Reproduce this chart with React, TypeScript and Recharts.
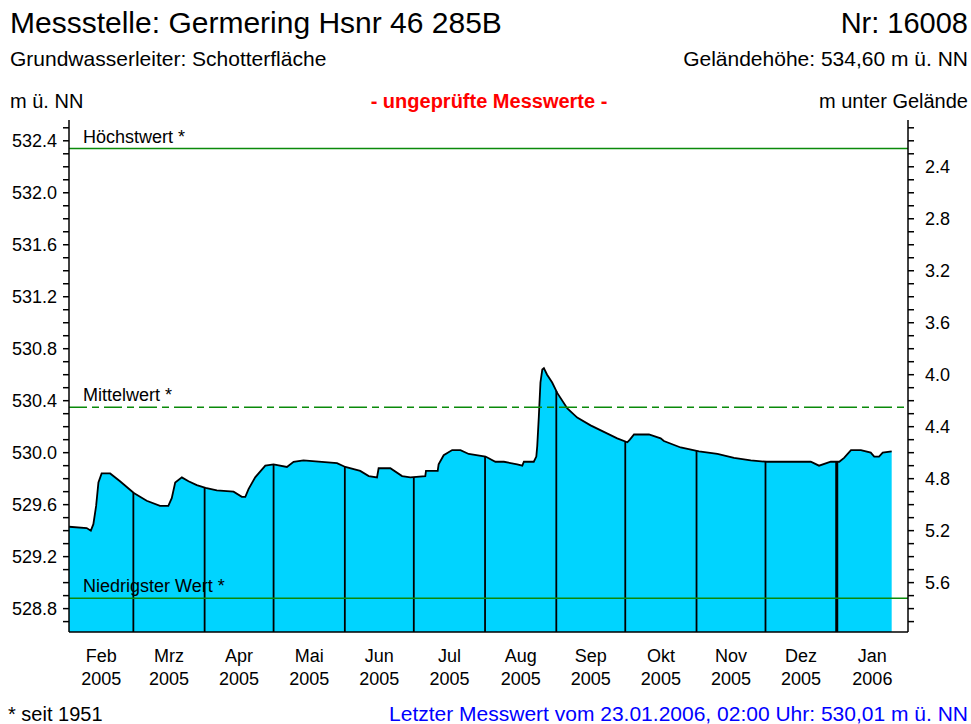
import React from 'react';
import { ComposedChart, Area, Line, XAxis, YAxis, ReferenceLine } from 'recharts';

// ---- texts ----
const titleText = 'Messstelle: Germering Hsnr 46 285B';
const numberText = 'Nr: 16008';
const aquiferText = 'Grundwasserleiter: Schotterfläche';
const groundText = 'Geländehöhe: 534,60 m ü. NN';
const leftUnit = 'm ü. NN';
const rightUnit = 'm unter Gelände';
const warningText = '- ungeprüfte Messwerte -';
const footnoteText = '* seit 1951';
const lastValueText = 'Letzter Messwert vom 23.01.2006, 02:00 Uhr: 530,01 m ü. NN';

// ---- data ----
const groundLevel = 534.6;
// days since 01.02.2005
const dayIndex = [
  0, 7.7, 9.5, 10.6, 11.8, 12.8, 14.2, 17.9, 22.2, 28.2, 33.8, 39.6, 43.2, 44.7, 46.2, 49.1, 52, 55.6,
  59.4, 64.3, 71.6, 75.2, 76.7, 78.1, 81, 85.4, 89, 94.8, 97.7, 102, 116.6, 120.2, 126.7, 130.4, 134,
  134.7, 139.8, 144.9, 148.5, 155, 155.3, 160.4, 160.8, 163, 166.7, 170.3, 173.9, 181.2, 185.5, 189.2,
  195, 197.2, 197.9, 202.2, 203.3, 203.7, 204.4, 205.1, 205.9, 206.6, 208, 210.2, 212.4, 216.8, 221.1,
  226.9, 232.7, 238.5, 242.9, 244, 245.8, 252.3, 257.4, 258.8, 266.1, 274.1, 282.1, 289.3, 296.6, 303.6,
  322.7, 326.3, 331.4, 335.1, 337.2, 340.2, 344.5, 348.8, 350.3, 352.4, 354, 357.9,
];
const waterLevel = [
  529.43, 529.42, 529.4, 529.45, 529.59, 529.77, 529.84, 529.84, 529.78, 529.69, 529.63, 529.59, 529.59,
  529.65, 529.77, 529.81, 529.78, 529.75, 529.73, 529.71, 529.7, 529.66, 529.66, 529.72, 529.81, 529.9,
  529.91, 529.89, 529.93, 529.94, 529.92, 529.89, 529.86, 529.82, 529.81, 529.88, 529.88, 529.82, 529.81,
  529.82, 529.86, 529.86, 529.91, 529.98, 530.02, 530.02, 529.99, 529.97, 529.93, 529.93, 529.91, 529.9,
  529.93, 529.93, 529.97, 530.05, 530.28, 530.54, 530.64, 530.65, 530.6, 530.54, 530.46, 530.34, 530.27,
  530.21, 530.16, 530.11, 530.08, 530.1, 530.14, 530.14, 530.11, 530.09, 530.04, 530.01, 529.99, 529.96,
  529.94, 529.93, 529.93, 529.9, 529.93, 529.93, 529.96, 530.02, 530.02, 530.0, 529.97, 529.97, 530.0,
  530.01,
];
const monthStartDays = [0, 28, 59, 89, 120, 150, 181, 212, 242, 273, 303, 334, 365];
const monthLabels = ['Feb', 'Mrz', 'Apr', 'Mai', 'Jun', 'Jul', 'Aug', 'Sep', 'Okt', 'Nov', 'Dez', 'Jan'];
const yearLabels = ['2005', '2005', '2005', '2005', '2005', '2005', '2005', '2005', '2005', '2005', '2005', '2006'];
const yearChangeDay = 334;

const highestValue = 532.34;
const meanValue = 530.35;
const lowestValue = 528.88;

const levelDomain: [number, number] = [528.62, 532.56];
const leftTicks = Array.from({ length: 39 }, (_, i) => Math.round((528.7 + i * 0.1) * 10) / 10);
const rightTicks = Array.from({ length: 39 }, (_, i) => Math.round((2.1 + i * 0.1) * 10) / 10);

const chartData = dayIndex.map((d, i) => ({
  day: d,
  level: waterLevel[i],
  depth: Math.round((groundLevel - waterLevel[i]) * 100) / 100,
}));

const midMonthDays = monthLabels.map((_, i) => (monthStartDays[i] + monthStartDays[i + 1]) / 2);

function levelAt(d: number): number {
  for (let i = 0; i < dayIndex.length - 1; i++) {
    if (d >= dayIndex[i] && d <= dayIndex[i + 1]) {
      const t = (d - dayIndex[i]) / (dayIndex[i + 1] - dayIndex[i]);
      return waterLevel[i] + t * (waterLevel[i + 1] - waterLevel[i]);
    }
  }
  return waterLevel[waterLevel.length - 1];
}

const FONT = '"Liberation Sans", Arial, Helvetica, sans-serif';

const MonthTick = (props: any) => {
  const { x, y, payload } = props;
  const i = midMonthDays.indexOf(payload.value);
  return (
    <text x={x} y={y} textAnchor="middle" fontSize={18} fontFamily={FONT} fill="#000">
      <tspan x={x} dy={22}>{monthLabels[i]}</tspan>
      <tspan x={x} dy={23}>{yearLabels[i]}</tspan>
    </text>
  );
};

const refLabel = (text: string) => (props: any) => {
  const vb = props.viewBox || {};
  return (
    <text x={(vb.x ?? 0) + 14} y={(vb.y ?? 0) - 6} fontSize={18} fontFamily={FONT} fill="#000">
      {text}
    </text>
  );
};

export default function App() {
  const W = 971;
  const H = 724;
  return (
    <div style={{ position: 'absolute', left: 0, top: 0, width: W, height: H, background: '#fff' }}>
      <ComposedChart
        width={W}
        height={H}
        data={chartData}
        margin={{ top: 120, right: 0, bottom: 34, left: 0 }}
        style={{ fontFamily: FONT }}
      >
        <XAxis
          xAxisId="b"
          type="number"
          dataKey="day"
          domain={[0, 365]}
          ticks={monthStartDays}
          interval={0}
          tick={false}
          tickSize={8}
          height={8}
          allowDataOverflow
          axisLine={{ stroke: '#000', strokeWidth: 1.5 }}
          tickLine={{ stroke: '#000', strokeWidth: 1.5 }}
        />
        <XAxis
          xAxisId="m"
          type="number"
          dataKey="day"
          domain={[0, 365]}
          ticks={midMonthDays}
          interval={0}
          tickLine={false}
          axisLine={false}
          tickSize={0}
          tickMargin={0}
          height={50}
          allowDataOverflow
          tick={<MonthTick />}
        />
        <YAxis
          yAxisId="left"
          orientation="left"
          type="number"
          width={69}
          domain={levelDomain}
          allowDataOverflow
          ticks={leftTicks}
          interval={0}
          tickSize={6}
          tickMargin={6}
          tickFormatter={(v: number) => (Math.round(v * 10) % 4 === 0 ? v.toFixed(1) : '')}
          tick={{ fill: '#000', fontSize: 18, fontFamily: FONT }}
          axisLine={{ stroke: '#000', strokeWidth: 1.5 }}
          tickLine={{ stroke: '#000', strokeWidth: 1.5 }}
        />
        <YAxis
          yAxisId="right"
          orientation="right"
          type="number"
          width={63}
          reversed
          domain={[
            Math.round((groundLevel - levelDomain[1]) * 100) / 100,
            Math.round((groundLevel - levelDomain[0]) * 100) / 100,
          ]}
          allowDataOverflow
          ticks={rightTicks}
          interval={0}
          tickSize={6}
          tickMargin={11}
          tickFormatter={(v: number) => (Math.round(v * 10) % 4 === 0 ? v.toFixed(1) : '')}
          tick={{ fill: '#000', fontSize: 18, fontFamily: FONT }}
          axisLine={{ stroke: '#000', strokeWidth: 1.5 }}
          tickLine={{ stroke: '#000', strokeWidth: 1.5 }}
        />
        <Area
          xAxisId="b"
          yAxisId="left"
          dataKey="level"
          type="linear"
          fill="#00d4ff"
          fillOpacity={1}
          stroke="#000"
          strokeWidth={1.8}
          dot={false}
          activeDot={false}
          isAnimationActive={false}
        />
        <Line
          xAxisId="m"
          yAxisId="right"
          dataKey="depth"
          stroke="none"
          dot={false}
          activeDot={false}
          isAnimationActive={false}
        />
        {monthStartDays.slice(1, -1).map((d) => (
          <ReferenceLine
            key={'v' + d}
            xAxisId="b"
            yAxisId="left"
            ifOverflow="visible"
            segment={[
              { x: d, y: levelDomain[0] },
              { x: d, y: levelAt(d) },
            ]}
            stroke="#000"
            strokeWidth={d === yearChangeDay ? 3 : 1.8}
          />
        ))}
        <ReferenceLine
          xAxisId="b"
          yAxisId="left"
          y={highestValue}
          stroke="#0a8a0a"
          strokeWidth={1.5}
          label={refLabel('Höchstwert *')}
        />
        <ReferenceLine
          xAxisId="b"
          yAxisId="left"
          y={meanValue}
          stroke="#0a8a0a"
          strokeWidth={1.5}
          strokeDasharray="18 5 7 5"
          label={refLabel('Mittelwert *')}
        />
        <ReferenceLine
          xAxisId="b"
          yAxisId="left"
          y={lowestValue}
          stroke="#0a8a0a"
          strokeWidth={1.5}
          label={refLabel('Niedrigster Wert *')}
        />
      </ComposedChart>
      <svg
        width={W}
        height={H}
        style={{ position: 'absolute', left: 0, top: 0, pointerEvents: 'none' }}
        fontFamily={FONT}
      >
        <text x={10} y={33} fontSize={30} fill="#000">{titleText}</text>
        <text x={968} y={33} fontSize={29} fill="#000" textAnchor="end">{numberText}</text>
        <text x={10} y={66} fontSize={21} fill="#000">{aquiferText}</text>
        <text x={968} y={66} fontSize={21} fill="#000" textAnchor="end">{groundText}</text>
        <text x={10} y={108} fontSize={20} fill="#000">{leftUnit}</text>
        <text x={489} y={108} fontSize={20} fill="#ff0000" fontWeight="bold" textAnchor="middle">{warningText}</text>
        <text x={968} y={108} fontSize={20} fill="#000" textAnchor="end">{rightUnit}</text>
        <text x={8} y={721} fontSize={20} fill="#000">{footnoteText}</text>
        <text x={968} y={721} fontSize={21} fill="#0000ff" textAnchor="end">{lastValueText}</text>
      </svg>
    </div>
  );
}
